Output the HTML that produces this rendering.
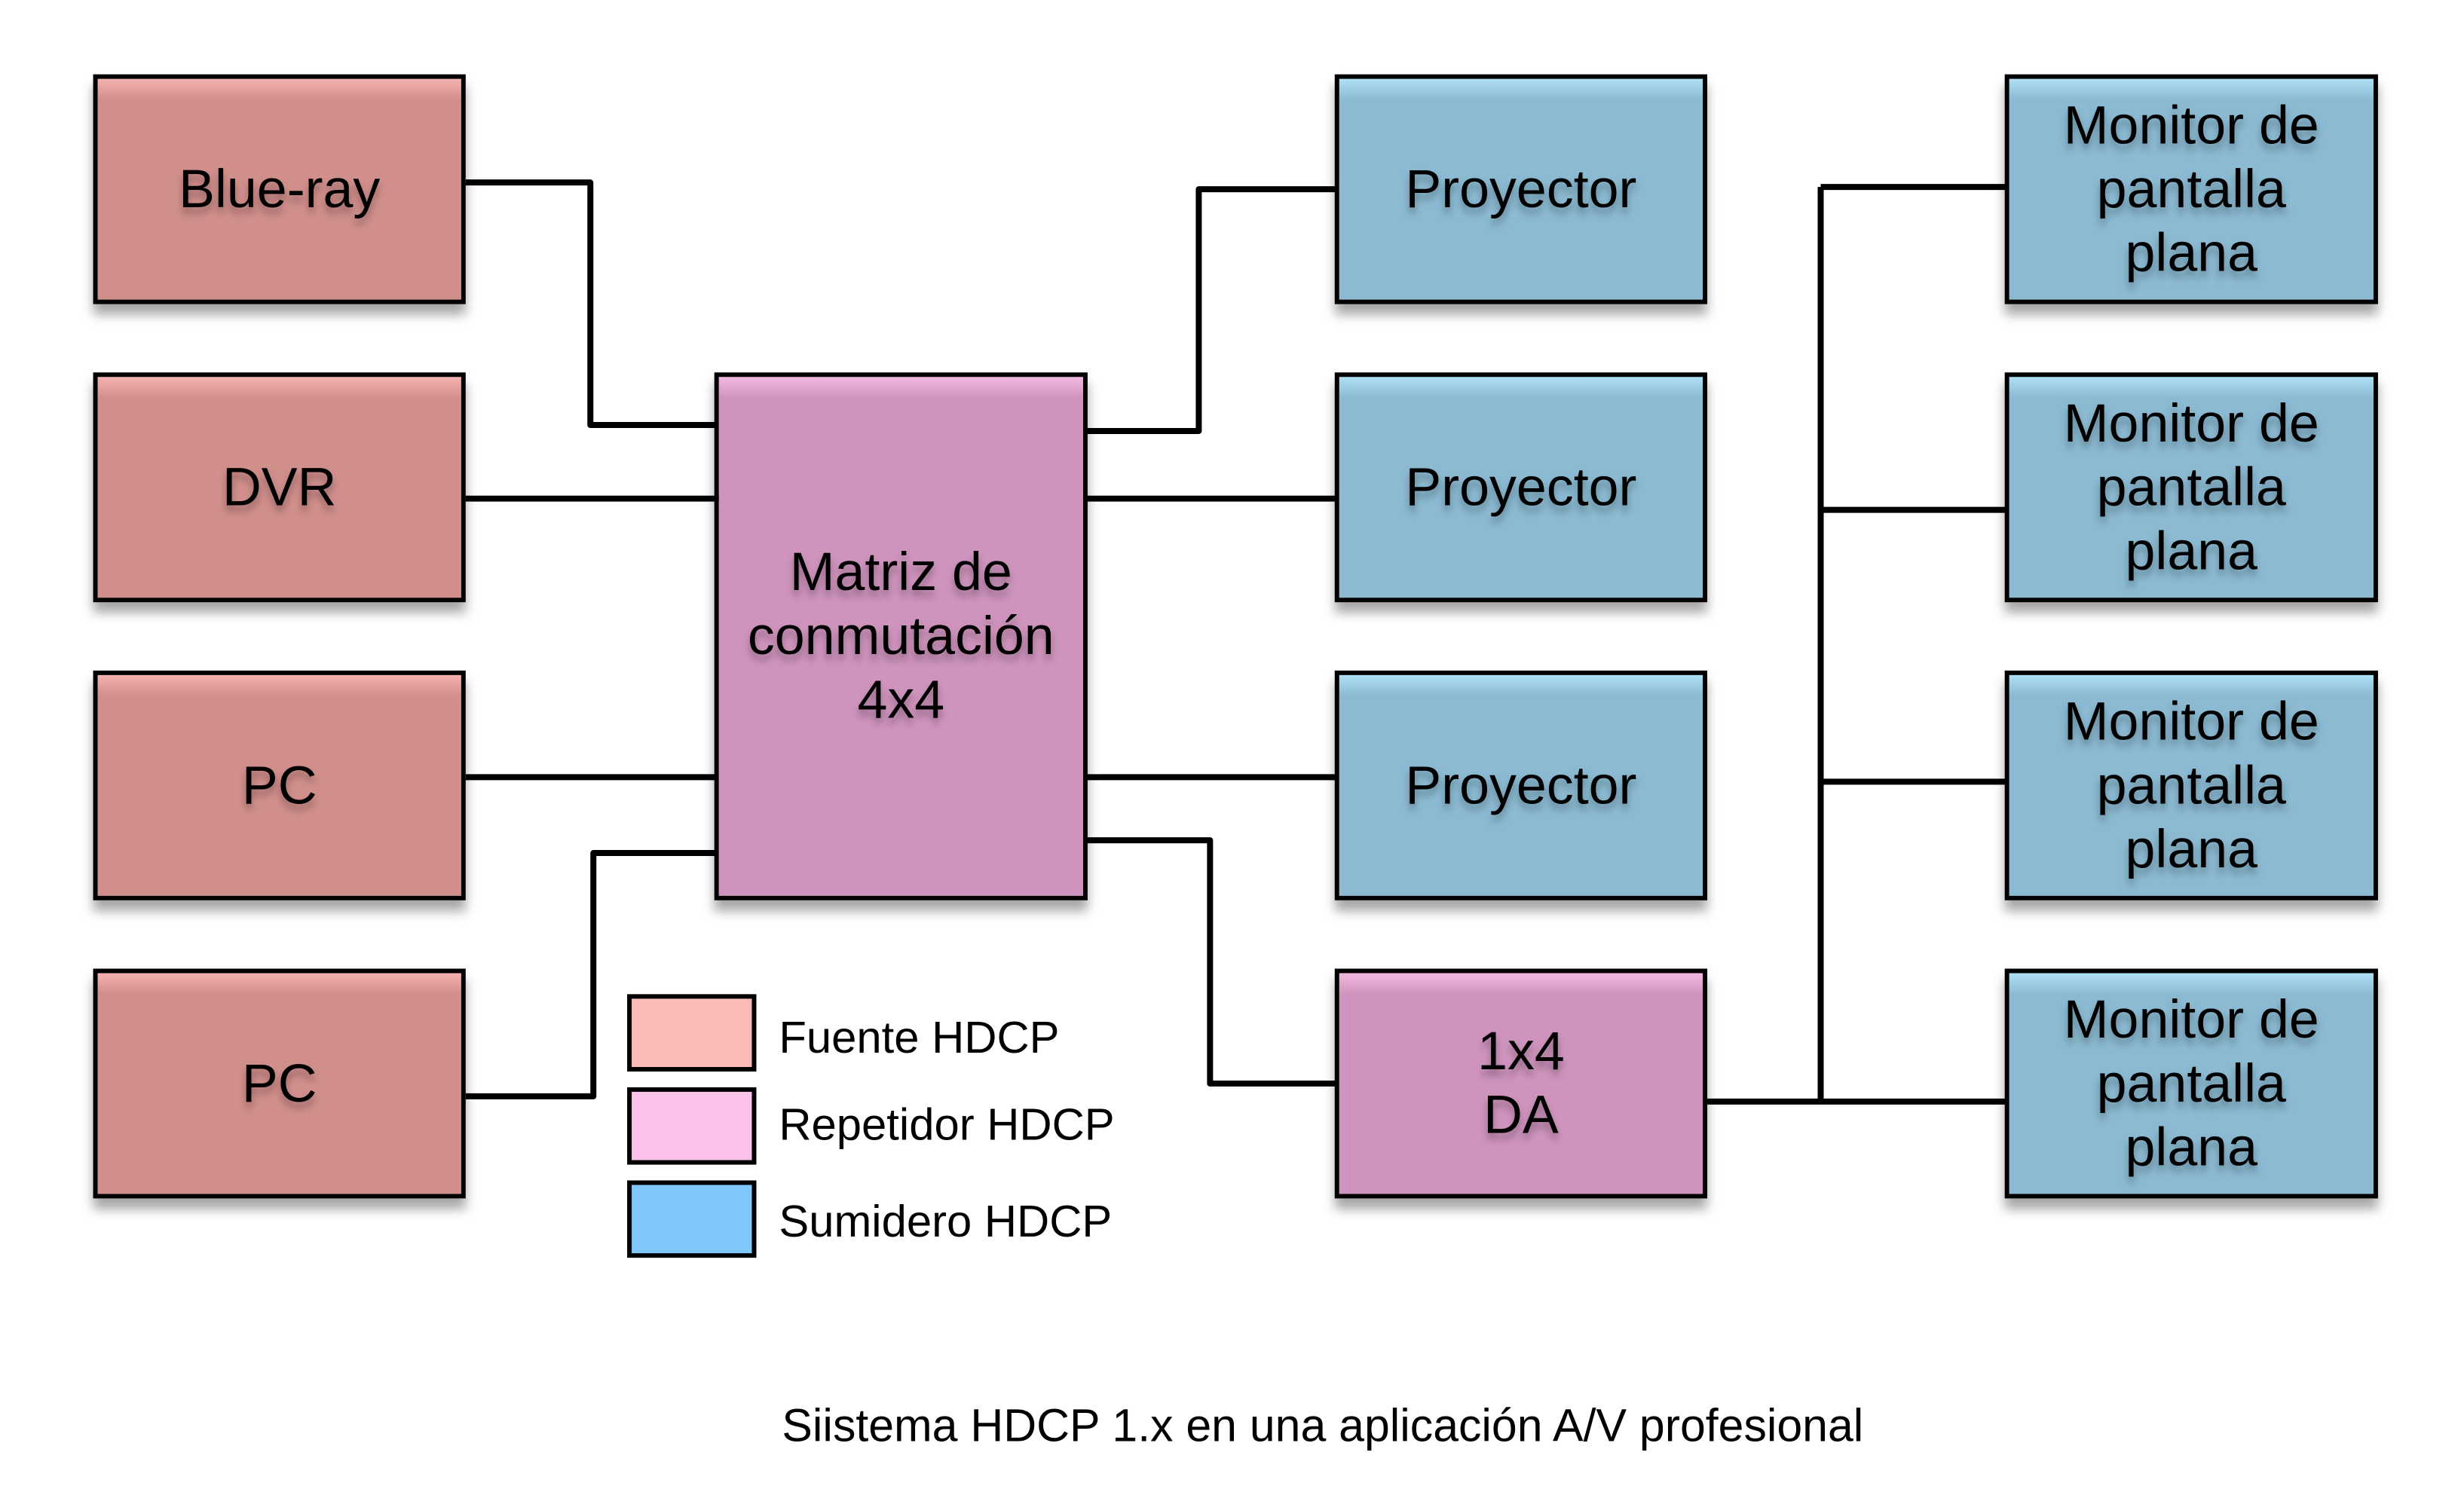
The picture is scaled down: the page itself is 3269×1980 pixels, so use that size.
<!DOCTYPE html>
<html><head><meta charset="utf-8"><style>
html,body{margin:0;padding:0;background:#fff;}
body{width:3269px;height:1980px;position:relative;overflow:hidden;font-family:"Liberation Sans",sans-serif;}
#w{position:absolute;left:0;top:0;width:3269px;height:1980px;transform:scale(0.9965);transform-origin:0 0;}
.b{position:absolute;box-sizing:border-box;border:6px solid #000;box-shadow:0 14px 14px rgba(0,0,0,0.35);display:flex;align-items:center;justify-content:center;text-align:center;font-size:72px;line-height:85px;color:#000;text-shadow:0 8px 10px rgba(0,0,0,0.3);}
.r{background:linear-gradient(#f4b2b0 0,#d18f8c 28px,#d18f8c 100%);}
.p{background:linear-gradient(#f2b9e0 0,#cf94bd 28px,#cf94bd 100%);}
.u{background:linear-gradient(#aee0f5 0,#8bbad2 28px,#8bbad2 100%);}
.lg{position:absolute;box-sizing:border-box;border:6px solid #000;width:172px;height:103px;left:835px;}
.lt{position:absolute;left:1037px;font-size:60px;line-height:60px;}
svg{position:absolute;left:0;top:0;}
</style></head><body><div id="w">
<svg width="3269" height="1980" fill="none" stroke="#000" stroke-width="8" stroke-linejoin="round">
<polyline points="620,243 786,243 786,566 953,566"/>
<polyline points="620,664 958,664"/>
<polyline points="620,1035 953,1035"/>
<polyline points="620,1460 790,1460 790,1136 953,1136"/>
<polyline points="1446,574 1596,574 1596,252 1779,252"/>
<polyline points="1446,664 1779,664"/>
<polyline points="1446,1035 1779,1035"/>
<polyline points="1446,1119 1611,1119 1611,1443 1779,1443"/>
<polyline points="2273,1467 2671,1467"/>
<polyline points="2424,249 2424,1467"/>
<polyline points="2424,249 2671,249"/>
<polyline points="2424,679 2671,679"/>
<polyline points="2424,1041 2671,1041"/>
</svg>
<div class="b r" style="left:124px;top:99px;width:496px;height:306px;">Blue-ray</div>
<div class="b r" style="left:124px;top:496px;width:496px;height:306px;">DVR</div>
<div class="b r" style="left:124px;top:893px;width:496px;height:306px;">PC</div>
<div class="b r" style="left:124px;top:1290px;width:496px;height:306px;">PC</div>
<div class="b p" style="left:951px;top:496px;width:497px;height:703px;">Matriz de<br>conmutación<br>4x4</div>
<div class="b u" style="left:1777px;top:99px;width:496px;height:306px;">Proyector</div>
<div class="b u" style="left:1777px;top:496px;width:496px;height:306px;">Proyector</div>
<div class="b u" style="left:1777px;top:893px;width:496px;height:306px;">Proyector</div>
<div class="b p" style="left:1777px;top:1290px;width:496px;height:306px;">1x4<br>DA</div>
<div class="b u" style="left:2669px;top:99px;width:497px;height:306px;">Monitor de<br>pantalla<br>plana</div>
<div class="b u" style="left:2669px;top:496px;width:497px;height:306px;">Monitor de<br>pantalla<br>plana</div>
<div class="b u" style="left:2669px;top:893px;width:497px;height:306px;">Monitor de<br>pantalla<br>plana</div>
<div class="b u" style="left:2669px;top:1290px;width:497px;height:306px;">Monitor de<br>pantalla<br>plana</div>
<div class="lg" style="top:1324px;background:#f9bbb6;"></div>
<div class="lg" style="top:1448px;background:#fbc2ea;"></div>
<div class="lg" style="top:1572px;background:#80c8fc;"></div>
<div class="lt" style="top:1352px;">Fuente HDCP</div>
<div class="lt" style="top:1468px;">Repetidor HDCP</div>
<div class="lt" style="top:1597px;">Sumidero HDCP</div>
<div style="position:absolute;left:0;width:3522px;top:1866px;text-align:center;font-size:61px;line-height:64px;">Siistema HDCP 1.x en una aplicación A/V profesional</div>
</div></body></html>
